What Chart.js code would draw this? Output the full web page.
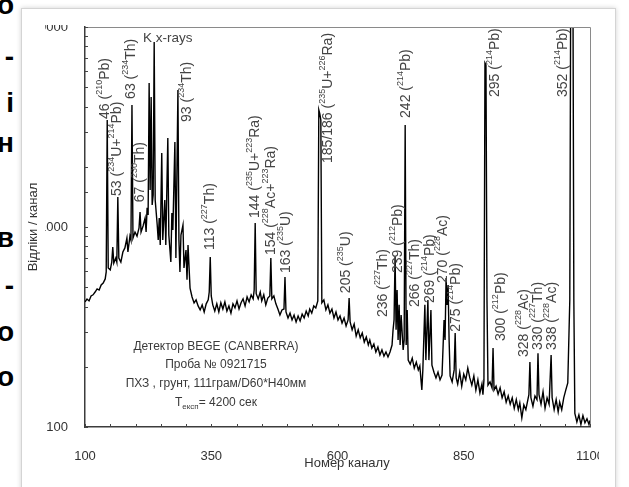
<!DOCTYPE html>
<html lang="uk">
<head>
<meta charset="utf-8">
<title>Гамма-спектр</title>
<script src="https://cdn.jsdelivr.net/npm/chart.js@4.4.1/dist/chart.umd.min.js"></script>
<style>
  html, body { margin: 0; padding: 0; background: #fff; }
  body { width: 629px; height: 487px; overflow: hidden; position: relative; font-family: "Liberation Sans", Arial, sans-serif; }
  .frag { position: absolute; left: -40px; width: 54px; text-align: right; font: bold 28px/28px "Liberation Sans", Arial, sans-serif; color: #000; }
  .card { position: absolute; left: 21px; top: 8px; width: 593px; height: 520px; background: #fff; border: 1px solid #d4d4d4; box-shadow: 0 0 5px rgba(0,0,0,0.18); }
  .clip { position: absolute; left: 24px; top: 25px; width: 575px; height: 462px; overflow: hidden; }
  #spectrum { position: absolute; left: -24px; top: -25px; }
</style>
</head>
<body>
<div class="frag" style="top:-9px">о</div>
<div class="frag" style="top:43px">-</div>
<div class="frag" style="top:89px">і</div>
<div class="frag" style="top:129px">н</div>
<div class="frag" style="top:224px">в</div>
<div class="frag" style="top:272px">-</div>
<div class="frag" style="top:318px">о</div>
<div class="frag" style="top:363px">о</div>

<div class="card"></div>
<div class="clip"><canvas id="spectrum" width="629" height="487"></canvas></div>

<script>
// spectrum: channel number -> counts per channel
const channels = [
  100,104,108,112,116,120,124,128,132,136,
  140,142,144,146,150,153,155,157,161,163,
  165,167,171,175,179,183,185,189,191,193,
  195,199,203,207,209,211,215,219,221,223,
  225,227,229,231,233,235,237,239,243,245,
  247,249,252,254,258,260,264,266,270,272,
  274,278,280,284,286,288,290,294,296,300,
  302,304,308,312,316,320,324,328,332,336,
  340,344,346,348,350,353,357,361,365,369,
  373,377,381,385,389,393,397,401,405,409,
  413,417,421,425,429,433,435,437,439,443,
  447,450,454,458,462,466,468,470,474,478,
  482,486,490,494,496,498,502,506,510,514,
  518,522,526,530,534,538,542,545,549,553,
  557,561,563,565,567,569,573,577,581,585,
  589,593,597,601,605,609,613,617,621,623,
  625,629,633,637,641,645,649,653,657,661,
  664,668,672,676,680,684,688,692,696,700,
  704,708,710,712,714,716,718,720,722,724,
  726,730,732,734,736,738,740,744,748,752,
  756,760,763,767,769,773,775,779,781,785,
  787,791,795,799,803,807,811,813,815,817,
  819,821,823,827,831,833,835,838,842,846,
  850,854,858,862,866,870,874,878,882,886,
  888,890,892,894,896,898,902,906,908,910,
  914,918,922,926,930,934,938,942,946,950,
  954,958,961,965,969,973,977,979,981,983,
  987,991,995,997,999,1003,1007,1011,1015,1019,
  1023,1025,1029,1033,1037,1040,1044,1048,1052,1056,
  1060,1062,1066,1068,1070,1074,1078,1082,1086,1090,
  1094,1098,1100
];
const counts = [
  422,436,427,452,458,473,490,484,513,525,
  550,596,3428,624,610,668,794,660,700,668,
  1413,700,668,750,786,880,750,900,860,4074,
  880,944,900,990,1189,944,1012,1109,944,1247,
  1148,5248,1531,4467,1288,1445,8414,1365,1023,861,
  1109,813,2344,861,1365,813,2786,912,668,1175,
  966,2661,700,4842,861,596,912,1023,624,767,
  545,813,495,447,417,432,403,385,408,376,
  413,432,473,708,452,408,380,413,376,418,
  389,422,380,403,371,413,394,427,389,418,
  437,403,447,422,458,437,484,1047,464,437,
  473,427,458,408,441,452,700,437,452,413,
  389,363,385,389,562,376,351,371,343,363,
  335,359,339,367,351,380,359,389,371,403,
  394,427,3846,3673,3428,418,432,385,408,371,
  389,351,376,343,359,331,351,320,343,441,
  335,306,327,285,306,279,295,266,282,257,
  272,248,260,237,251,229,243,226,237,224,
  237,257,306,343,714,306,484,272,408,257,
  363,243,272,3236,257,385,216,206,221,197,
  211,193,202,153,193,408,216,432,216,385,
  204,188,176,188,172,182,343,272,556,408,
  513,272,180,168,193,295,176,164,188,160,
  184,172,197,176,162,180,153,172,148,164,
  145,172,6607,6457,432,162,168,157,248,153,
  160,146,157,140,150,133,143,130,140,124,
  137,122,132,111,129,122,137,145,211,140,
  127,143,137,234,145,130,150,124,140,130,
  229,140,122,137,119,133,122,140,153,166,
  432,25000,25000,432,117,106,115,103,114,105,
  110,103,108
];

const xTickLabels = ['100', '350', '600', '850', '1100'];
const yTickLabels = ['100', '1000', '10000'];
const xTitle = 'Номер каналу';
const yTitle = 'Відліки / канал';

// peak labels: {..} = superscript; anchored at (channel, counts) of the label foot
const peakLabels = [
  '46 ({210}Pb)', '53 ({234}U+{214}Pb)', '63 ({234}Th)', '67 ({230}Th)', '93 ({234}Th)',
  '113 ({227}Th)', '144 ({235}U+{223}Ra)', '154 ({228}Ac+{223}Ra)', '163 ({235}U)',
  '185/186 ({235}U+{226}Ra)', '205 ({235}U)', '236 ({227}Th)', '239 ({212}Pb)',
  '242 ({214}Pb)', '266 ({227}Th)', '269 ({214}Pb)', '270 ({228}Ac)', '275 ({214}Pb)',
  '295 ({214}Pb)', '300 ({212}Pb)', '328 ({228}Ac)', '330 ({227}Th)', '338 ({228}Ac)',
  '352 ({214}Pb)'
];
const peakLabelChannels = [
  140, 163, 191, 209, 302, 348, 437, 468, 498, 581, 617, 690, 720,
  736, 753, 783, 809, 835, 912, 924, 969, 997, 1025, 1047
];
const peakLabelCounts = [
  3470, 1430, 4370, 1330, 3350, 767, 1109, 724, 589, 2090, 467, 355, 589,
  3510, 398, 417, 525, 299, 4467, 269, 224, 243, 243, 4467
];
const xrayLabel = 'K x-rays';

// sample note; [..] = subscript
const noteLines = [
  'Детектор BEGE (CANBERRA)',
  'Проба № 0921715',
  'ПХЗ , грунт, 111грам/D60*H40мм',
  'T[експ]= 4200 сек'
];

const FONT = '"Liberation Sans", Arial, sans-serif';
Chart.defaults.font.family = FONT;
Chart.defaults.color = '#333';

function richParts(text) {
  const parts = [];
  const re = /\{([^}]*)\}|\[([^\]]*)\]|([^{\[]+)/g;
  let m;
  while ((m = re.exec(text))) {
    if (m[1] !== undefined) parts.push({ t: m[1], k: 'sup' });
    else if (m[2] !== undefined) parts.push({ t: m[2], k: 'sub' });
    else parts.push({ t: m[3], k: 'n' });
  }
  return parts;
}

function drawRich(ctx, text, x, y, size, align) {
  const parts = richParts(text);
  const small = Math.round(size * 0.66);
  const fontOf = p => (p.k === 'n' ? size : small) + 'px ' + FONT;
  let w = 0;
  parts.forEach(p => { ctx.font = fontOf(p); p.w = ctx.measureText(p.t).width; w += p.w; });
  let cx = align === 'center' ? x - w / 2 : x;
  ctx.textAlign = 'left';
  ctx.textBaseline = 'middle';
  parts.forEach(p => {
    ctx.font = fontOf(p);
    const dy = p.k === 'sup' ? -size * 0.38 : p.k === 'sub' ? size * 0.3 : 0;
    ctx.fillText(p.t, cx, y + dy);
    cx += p.w;
  });
}

const deco = {
  id: 'deco',
  afterDatasetsDraw(chart) {
    const { ctx, chartArea: a, scales: { x, y } } = chart;
    ctx.save();

    // frame on top and right
    ctx.strokeStyle = '#8a8a8a';
    ctx.lineWidth = 1;
    ctx.beginPath();
    ctx.moveTo(a.left, a.top + 0.5);
    ctx.lineTo(a.right + 0.5, a.top + 0.5);
    ctx.lineTo(a.right + 0.5, a.bottom);
    ctx.stroke();

    // small inward ticks
    ctx.strokeStyle = '#444';
    x.ticks.forEach(t => {
      const px = Math.round(x.getPixelForValue(t.value)) + 0.5;
      ctx.beginPath(); ctx.moveTo(px, a.bottom); ctx.lineTo(px, a.bottom - 3); ctx.stroke();
    });
    y.ticks.forEach(t => {
      const py = Math.round(y.getPixelForValue(t.value)) + 0.5;
      ctx.beginPath(); ctx.moveTo(a.left, py); ctx.lineTo(a.left + 3, py); ctx.stroke();
    });

    // peak labels, rotated
    ctx.fillStyle = '#444';
    peakLabels.forEach((txt, i) => {
      const px = x.getPixelForValue(peakLabelChannels[i]);
      const py = y.getPixelForValue(peakLabelCounts[i]);
      ctx.save();
      ctx.translate(px, py);
      ctx.rotate(-Math.PI / 2);
      drawRich(ctx, txt, 0, 0, 14, 'left');
      ctx.restore();
    });
    drawRich(ctx, xrayLabel, 143, 38, 13.5, 'left');

    // note block
    ctx.fillStyle = '#3a3a3a';
    const noteY = [347, 365, 384, 403];
    noteLines.forEach((line, i) => drawRich(ctx, line, 216, noteY[i], 12, 'center'));

    // axis titles
    ctx.fillStyle = '#333';
    ctx.font = '13px ' + FONT;
    ctx.textAlign = 'center';
    ctx.textBaseline = 'middle';
    ctx.fillText(xTitle, 347, 463);
    ctx.translate(33, 227);
    ctx.rotate(-Math.PI / 2);
    ctx.fillText(yTitle, 0, 0);

    ctx.restore();
  }
};

new Chart(document.getElementById('spectrum'), {
  type: 'line',
  data: {
    datasets: [{
      data: channels.map((c, i) => ({ x: c, y: counts[i] })),
      borderColor: '#000',
      borderWidth: 1.4,
      pointRadius: 0,
      tension: 0,
      fill: false
    }]
  },
  options: {
    responsive: false,
    animation: false,
    devicePixelRatio: 1,
    layout: { padding: { left: 45, top: 27, right: 39, bottom: 20 } },
    plugins: { legend: { display: false }, tooltip: { enabled: false } },
    scales: {
      x: {
        type: 'linear', min: 100, max: 1100,
        grid: { display: false },
        border: { color: '#3c3c3c', width: 1.5 },
        ticks: {
          stepSize: 50, autoSkip: false, maxRotation: 0, padding: 14,
          font: { size: 13 }, color: '#333',
          callback: v => xTickLabels.includes(String(v)) ? String(v) : ''
        },
        afterFit: s => { s.height = 40; }
      },
      y: {
        type: 'logarithmic', min: 100, max: 10000,
        grid: { display: false },
        border: { color: '#3c3c3c', width: 1.5 },
        ticks: {
          autoSkip: false, padding: 9,
          font: { size: 13 }, color: '#333',
          callback: v => yTickLabels.includes(String(v)) ? String(v) : ''
        },
        afterFit: s => { s.width = 40; }
      }
    }
  },
  plugins: [deco]
});
</script>
</body>
</html>
